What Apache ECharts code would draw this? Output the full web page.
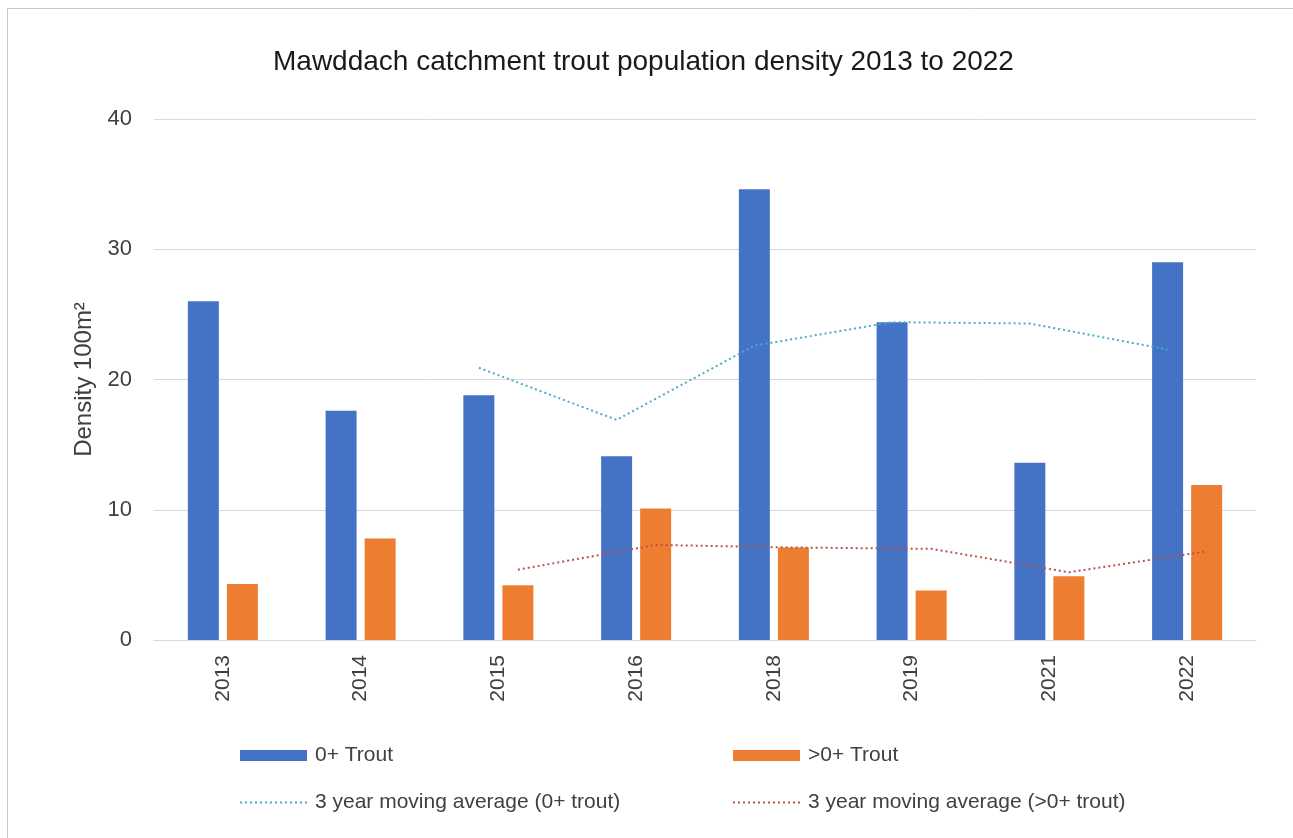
<!DOCTYPE html>
<html>
<head>
<meta charset="utf-8">
<script src="https://cdn.jsdelivr.net/npm/echarts@6/dist/echarts.min.js"></script>
<style>
  html, body { margin: 0; padding: 0; background: #fff; }
  #chart { width: 1293px; height: 838px; }
</style>
</head>
<body>
<div id="chart"></div>
<script>
// years on the category axis
var years = ['2013', '2014', '2015', '2016', '2018', '2019', '2021', '2022'];
// bar values (density per 100m2)
var trout0 = [26.0, 17.6, 18.8, 14.1, 34.6, 24.4, 13.6, 29.0];
var troutOlder = [4.3, 7.8, 4.2, 10.1, 7.1, 3.8, 4.9, 11.9];
// Excel-style 3 year moving average trendlines
var ma0 = [null, null, 20.9, 16.9, 22.6, 24.4, 24.3, 22.3];
var maOlder = [null, null, 5.4, 7.3, 7.1, 7.0, 5.2, 6.8];
var yTicks = [0, 10, 20, 30, 40];

var textColor = '#404040';
var font = 'Liberation Sans, Arial, sans-serif';

// bar layout (percent of category) -- trendlines sit on the bar centres like excel does
var barW = 22.5;
var barGap = 26;
var shift = (barW / 100) * (1 + barGap / 100) / 2;

function trendPoints(arr, side){
    var pts = [];
    for (var i = 0; i < arr.length; i++) {
        if (arr[i] == null) continue;
        pts.push([i + 0.5 + side * shift, arr[i]]);
    }
    return pts;
}

var chart = echarts.init(document.getElementById('chart'));

var legendText = { fontFamily: font, fontSize: 21, color: textColor, padding: [0, 0, 0, 3] };
var noSymbol = { itemStyle: { opacity: 0 } };

var option = {
    backgroundColor: '#fff',
    textStyle: { fontFamily: font },
    animation: false,
    graphic: [{
        type: 'rect',
        shape: { x: 7.5, y: 8.5, width: 1300, height: 850 },
        style: { fill: 'none', stroke: '#c8c8c8', lineWidth: 1 },
        silent: true
    }],
    title: {
        text: 'Mawddach catchment trout population density 2013 to 2022',
        left: 268,
        top: 43,
        textStyle: { fontFamily: font, fontSize: 28, fontWeight: 'normal', color: '#1a1a1a' }
    },
    grid: { left: 154, right: 37, top: 119, bottom: 198 },
    legend: [{
        orient: 'vertical',
        left: 234,
        top: 740,
        itemWidth: 67,
        itemHeight: 11,
        itemGap: 26,
        textStyle: legendText,
        data: [
            { name: '0+ Trout', icon: 'rect' },
            Object.assign({ name: '3 year moving average (0+ trout)' }, noSymbol)
        ]
    }, {
        orient: 'vertical',
        left: 727,
        top: 740,
        itemWidth: 67,
        itemHeight: 11,
        itemGap: 26,
        textStyle: legendText,
        data: [
            { name: '>0+ Trout', icon: 'rect' },
            Object.assign({ name: '3 year moving average (>0+ trout)' }, noSymbol)
        ]
    }],
    xAxis: [{
        type: 'category',
        data: years,
        axisLine: { lineStyle: { color: '#d9d9d9', width: 1 } },
        axisTick: { show: false },
        axisLabel: { rotate: 90, margin: 15, fontSize: 21, color: textColor, fontFamily: font }
    }, {
        type: 'value',
        min: 0,
        max: years.length,
        show: false
    }],
    yAxis: {
        type: 'value',
        min: yTicks[0],
        max: yTicks[yTicks.length - 1],
        interval: 10,
        name: 'Density 100m²',
        nameLocation: 'middle',
        nameGap: 58,
        nameTextStyle: { fontFamily: font, fontSize: 24, color: textColor },
        axisLine: { show: false },
        axisTick: { show: false },
        axisLabel: { margin: 22, fontSize: 22, color: textColor, fontFamily: font },
        splitLine: { lineStyle: { color: '#d9d9d9', width: 1 } }
    },
    series: [
        {
            name: '0+ Trout',
            type: 'bar',
            data: trout0,
            barWidth: barW + '%',
            barGap: barGap + '%',
            itemStyle: { color: '#4472c4' }
        },
        {
            name: '>0+ Trout',
            type: 'bar',
            data: troutOlder,
            barWidth: barW + '%',
            itemStyle: { color: '#ed7d31' }
        },
        {
            name: '3 year moving average (0+ trout)',
            type: 'line',
            xAxisIndex: 1,
            data: trendPoints(ma0, -1),
            symbol: 'none',
            itemStyle: { color: '#4bacc6' },
            lineStyle: { color: '#4bacc6', width: 2, type: [2, 3] },
            z: 5
        },
        {
            name: '3 year moving average (>0+ trout)',
            type: 'line',
            xAxisIndex: 1,
            data: trendPoints(maOlder, 1),
            symbol: 'none',
            itemStyle: { color: '#c0504d' },
            lineStyle: { color: '#c0504d', width: 2, type: [2, 3] },
            z: 5
        }
    ]
};

chart.setOption(option);
</script>
</body>
</html>
